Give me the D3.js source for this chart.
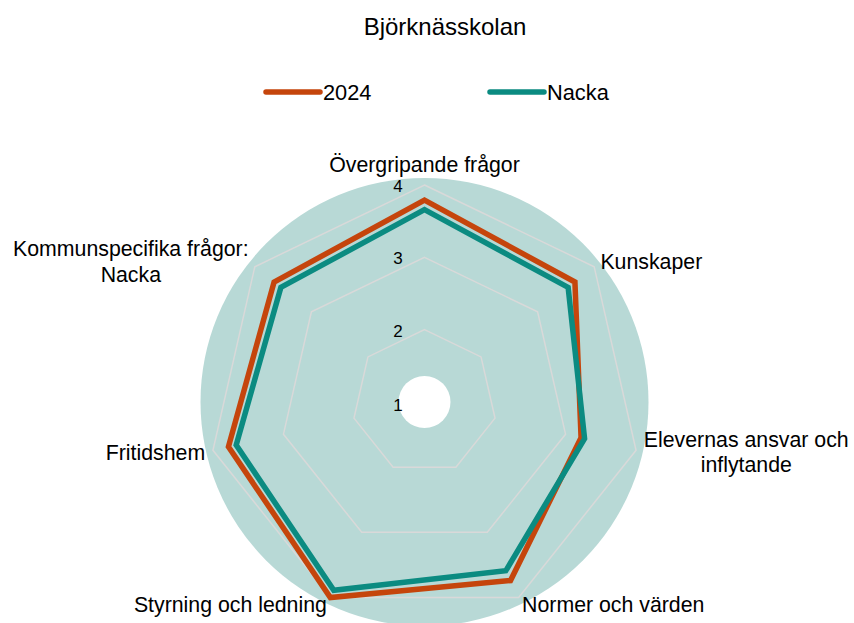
<!DOCTYPE html>
<html>
<head>
<meta charset="utf-8">
<script src="https://cdn.jsdelivr.net/npm/d3@7"></script>
<style>
  body { margin: 0; background: #fff; }
  svg text { font-family: "Liberation Sans", Arial, sans-serif; fill: #000; }
</style>
</head>
<body>
<div class="container"></div>
<script>
/* chart data */
const title = "Björknässkolan";
const categories = [
    "Övergripande frågor",
    "Kunskaper",
    "Elevernas ansvar och\ninflytande",
    "Normer och värden",
    "Styrning och ledning",
    "Fritidshem",
    "Kommunspecifika frågor:\nNacka"
];
const seriesNames = ["2024", "Nacka"];
const values2024 = [3.79, 3.66, 3.22, 3.74, 4.0, 3.78, 3.66];
const valuesNacka = [3.66, 3.54, 3.27, 3.59, 3.89, 3.67, 3.54];
const tickValues = [1, 2, 3, 4];

const w = 854;
const h = 623;
const cx = 424.5, cy = 402;
const fontSize = 21.3;
const colors = ["#c5450c", "#0b8b81"];

const svg = d3.select(".container")
              .append("svg")
              .attr("width", w)
              .attr("height", h);

/* scales */
const angle = d3.scaleLinear().domain([0, categories.length]).range([0, 2 * Math.PI]);
const rScale = d3.scaleLinear().domain([1, 4]).range([0, 217]);

const plot = svg.append("g").attr("transform", "translate(" + cx + "," + cy + ")");

/* teal disk with a hole in the middle */
plot.append("circle").attr("r", 224).attr("fill", "#b8d9d6");
plot.append("circle").attr("r", 26).attr("fill", "#fff");

/* grid heptagons */
const gridLine = d3.lineRadial()
                   .angle((d, i) => angle(i))
                   .radius((d) => rScale(d))
                   .curve(d3.curveLinearClosed);

plot.selectAll(".grid")
    .data(tickValues.filter((t) => t > 1))
    .enter()
    .append("path")
    .attr("class", "grid")
    .attr("d", (t) => gridLine(categories.map(() => t)))
    .attr("fill", "none")
    .attr("stroke", "#d9d9d9")
    .attr("stroke-width", 1.5);

/* tick labels */
plot.selectAll(".tick-label")
    .data(tickValues)
    .enter()
    .append("text")
    .attr("class", "tick-label")
    .attr("x", -26.5)
    .attr("y", (t) => -rScale(t) + (t === 1 ? 3 : 1))
    .attr("dy", "0.35em")
    .attr("text-anchor", "middle")
    .style("font-size", "17px")
    .text((t) => t);

/* series lines, Nacka drawn on top */
const series = [values2024, valuesNacka];
const valueLine = d3.lineRadial()
                    .angle((d, i) => angle(i))
                    .radius((d) => rScale(d))
                    .curve(d3.curveLinearClosed);

plot.selectAll(".series")
    .data(series)
    .enter()
    .append("path")
    .attr("class", "series")
    .attr("d", (d) => valueLine(d))
    .attr("fill", "none")
    .attr("stroke", (d, i) => colors[i])
    .attr("stroke-width", 5.5)
    .attr("stroke-linejoin", "miter");

/* category labels */
const labelR = 225;
const lineH = 25.5;
categories.forEach((cat, i) => {
    const a = angle(i);
    const sx = Math.sin(a), cy0 = -Math.cos(a);
    let x = labelR * sx;
    let y = labelR * cy0;
    const lines = cat.split("\n");
    const g = plot.append("text").style("font-size", fontSize + "px");
    lines.forEach((l) => g.append("tspan").text(l));
    // measure widest line
    const widths = g.selectAll("tspan").nodes().map((n) => n.getComputedTextLength());
    const bw = d3.max(widths);
    let left;
    if (Math.abs(sx) < 0.1) left = x - bw / 2;
    else if (sx > 0) left = x;
    else left = x - bw;
    // keep inside the chart area
    if (cx + left < 12) left = 12 - cx;
    if (cx + left + bw > w - 4) left = w - 4 - bw - cx;
    let top = y - (lines.length * lineH) / 2;
    if (Math.abs(sx) < 0.1) top = y - 12 - (lines.length * lineH) / 2;
    g.selectAll("tspan")
     .attr("x", left + bw / 2)
     .attr("y", (d, k) => top + lineH * k + lineH / 2)
     .attr("dy", "0.35em")
     .attr("text-anchor", "middle");
});

/* title */
svg.append("text")
   .attr("x", 445)
   .attr("y", 27)
   .attr("dy", "0.35em")
   .attr("text-anchor", "middle")
   .style("font-size", "24px")
   .text(title);

/* legend */
const legendX = [266, 490];
const legend = svg.selectAll(".legend")
                  .data(seriesNames)
                  .enter()
                  .append("g")
                  .attr("class", "legend")
                  .attr("transform", (d, i) => "translate(" + legendX[i] + ",92)");
legend.append("line")
      .attr("x1", 0)
      .attr("x2", 54)
      .attr("stroke", (d, i) => colors[i])
      .attr("stroke-width", 5.5)
      .attr("stroke-linecap", "round");
legend.append("text")
      .attr("x", 57)
      .attr("dy", "0.35em")
      .style("font-size", "21.8px")
      .text((d) => d);
</script>
</body>
</html>
